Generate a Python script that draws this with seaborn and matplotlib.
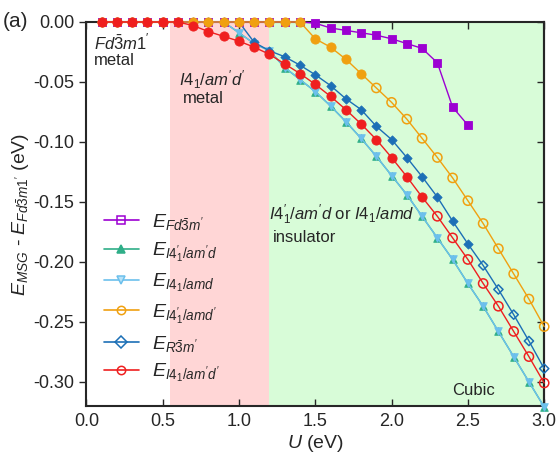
import numpy as np
import pandas as pd
import seaborn as sns
import matplotlib.pyplot as plt
from matplotlib.lines import Line2D

# U values (eV)
u = [0.1, 0.2, 0.3, 0.4, 0.5, 0.6, 0.7, 0.8, 0.9, 1.0,
     1.1, 1.2, 1.3, 1.4, 1.5, 1.6, 1.7, 1.8, 1.9, 2.0,
     2.1, 2.2, 2.3, 2.4, 2.5, 2.6, 2.7, 2.8, 2.9, 3.0]

# energies relative to Fd-3m1' (eV)
e_fd = [0, 0, 0, 0, 0, 0, 0, 0, 0, 0,
        0, 0, 0, 0, -0.001, -0.005, -0.007, -0.009, -0.011, -0.014,
        -0.018, -0.022, -0.034, -0.071, -0.086]
e_i4p_amd = [0, 0, 0, 0, 0, 0, 0, 0, 0, -0.009,
             -0.018, -0.024, -0.038, -0.048, -0.058, -0.070, -0.083, -0.097, -0.112, -0.128,
             -0.144, -0.162, -0.180, -0.198, -0.218, -0.237, -0.258, -0.279, -0.300, -0.321]
e_i4_amd = [0, 0, 0, 0, 0, 0, 0, 0, 0, -0.009,
            -0.018, -0.024, -0.038, -0.048, -0.058, -0.070, -0.083, -0.097, -0.112, -0.128,
            -0.144, -0.162, -0.180, -0.198, -0.218, -0.237, -0.258, -0.279, -0.300, -0.321]
e_i4p_amdp = [0, 0, 0, 0, 0, 0, 0, 0, 0, 0,
              0, 0, 0, 0, -0.014, -0.021, -0.031, -0.043, -0.055, -0.067,
              -0.081, -0.097, -0.113, -0.130, -0.149, -0.168, -0.189, -0.210, -0.231, -0.254]
e_r3m = [0, 0, 0, 0, 0, 0, 0, 0, 0, 0,
         -0.017, -0.024, -0.029, -0.036, -0.044, -0.053, -0.064, -0.073, -0.087, -0.098,
         -0.113, -0.129, -0.146, -0.166, -0.185, -0.203, -0.223, -0.244, -0.266, -0.289]
e_i4_amdpp = [0, 0, 0, 0, 0, 0, -0.003, -0.008, -0.012, -0.016,
              -0.021, -0.027, -0.035, -0.043, -0.052, -0.062, -0.073, -0.085, -0.098, -0.113,
              -0.129, -0.146, -0.162, -0.180, -0.198, -0.218, -0.237, -0.258, -0.279, -0.301]

# last U with a filled marker (open markers after it)
fill_until = {'fd': 3.0, 'i4p_amd': 3.0, 'i4_amd': 3.0, 'i4p_amdp': 1.8, 'r3m': 2.5, 'i4_amdpp': 2.2}

labels = {
    'fd': r"$E_{Fd\bar{3}m'}$",
    'i4p_amd': r"$E_{I4_1'/am'd}$",
    'i4_amd': r"$E_{I4_1/amd}$",
    'i4p_amdp': r"$E_{I4_1'/amd'}$",
    'r3m': r"$E_{R\bar{3}m'}$",
    'i4_amdpp': r"$E_{I4_1/am'd'}$",
}
colors = {'fd': '#9c00d2', 'i4p_amd': '#2fae88', 'i4_amd': '#6cc0ec',
          'i4p_amdp': '#f0a010', 'r3m': '#1c6fb6', 'i4_amdpp': '#ef1f1f'}
markers = {'fd': 's', 'i4p_amd': '^', 'i4_amd': 'v', 'i4p_amdp': 'o', 'r3m': 'D', 'i4_amdpp': 'o'}
sizes = {'fd': 26, 'i4p_amd': 30, 'i4_amd': 30, 'i4p_amdp': 44, 'r3m': 22, 'i4_amdpp': 44}

values = {'fd': e_fd, 'i4p_amd': e_i4p_amd, 'i4_amd': e_i4_amd,
          'i4p_amdp': e_i4p_amdp, 'r3m': e_r3m, 'i4_amdpp': e_i4_amdpp}

sns.set_style('ticks')
plt.rcParams['font.family'] = ['Liberation Sans', 'DejaVu Sans']
plt.rcParams['mathtext.fontset'] = 'custom'
plt.rcParams['mathtext.rm'] = 'Liberation Sans'
plt.rcParams['mathtext.it'] = 'Liberation Sans:italic'
plt.rcParams['mathtext.bf'] = 'Liberation Sans:bold'
plt.rcParams['axes.unicode_minus'] = False

fig = plt.figure(figsize=(5.57, 4.58), dpi=100)
ax = fig.add_axes([0.155, 0.114, 0.822, 0.838])

# phase regions
ax.axvspan(0.545, 1.195, color='#ffd6d6', lw=0, zorder=0)
ax.axvspan(1.195, 3.0, color='#d8fcd8', lw=0, zorder=0)

# drawing order: later series sit on top
draw_order = ['i4p_amd', 'i4_amd', 'r3m', 'fd', 'i4p_amdp', 'i4_amdpp']
for z, key in enumerate(draw_order):
    df = pd.DataFrame({'U': u[:len(values[key])], 'E': values[key]})
    c = colors[key]
    sns.lineplot(data=df, x='U', y='E', color=c, lw=1.0, estimator=None, sort=False,
                 ax=ax, zorder=2 + 2 * z, clip_on=False)
    filled = df[df['U'] <= fill_until[key] + 1e-9]
    hollow = df[df['U'] > fill_until[key] + 1e-9]
    sns.scatterplot(data=filled, x='U', y='E', marker=markers[key], s=sizes[key],
                    color=c, edgecolor=c, linewidth=0.6, ax=ax, zorder=3 + 2 * z, clip_on=False)
    if len(hollow):
        sns.scatterplot(data=hollow, x='U', y='E', marker=markers[key], s=sizes[key],
                        facecolor='none', edgecolor=c, linewidth=1.1, ax=ax, zorder=3 + 2 * z,
                        clip_on=False)

ax.set_xlim(0, 3.0)
ax.set_ylim(-0.32, 0.0)
ax.set_xticks(np.arange(0, 3.01, 0.5))
ax.set_yticks(np.arange(-0.30, 0.001, 0.05))
ax.set_xticklabels(['%.1f' % t for t in np.arange(0, 3.01, 0.5)])
ax.set_yticklabels(['%.2f' % t if abs(t) > 1e-9 else '0.00' for t in np.arange(-0.30, 0.001, 0.05)])
ax.tick_params(axis='x', direction='in', top=True, length=5, width=1, labelsize=13, pad=5)
ax.tick_params(axis='y', direction='out', length=5, width=1, labelsize=13)
right = ax.secondary_yaxis('right')
right.set_yticks(np.arange(-0.30, 0.001, 0.05))
right.tick_params(direction='in', length=5, width=1, labelright=False)
for side in ['left', 'right', 'top', 'bottom']:
    ax.spines[side].set_linewidth(1.5)
right.spines['right'].set_linewidth(1.5)

ax.set_xlabel(r'$U$ (eV)', fontsize=14, labelpad=2)
ax.set_ylabel(r"$E_{MSG}$ - $E_{Fd\bar{3}m1'}$ (eV)", fontsize=14, labelpad=2)

# text annotations
ax.text(0.05, -0.0175, r"$Fd\bar{3}m1'$", fontsize=12, va='center')
ax.text(0.05, -0.0325, 'metal', fontsize=12, va='center')
ax.text(0.61, -0.048, r"$I4_1/am'd'$", fontsize=12, va='center')
ax.text(0.63, -0.064, 'metal', fontsize=12, va='center')
ax.text(1.2, -0.161, r"$I4_1'/am'd$ or $I4_1/amd$", fontsize=12, va='center')
ax.text(1.22, -0.1795, 'insulator', fontsize=12, va='center')
ax.text(2.4, -0.307, 'Cubic', fontsize=12, va='center')
fig.text(0.005, 0.952, '(a)', fontsize=15, va='center')

# legend with open markers
order = ['fd', 'i4p_amd', 'i4_amd', 'i4p_amdp', 'r3m', 'i4_amdpp']
handles = []
for key in order:
    c = colors[key]
    mfc = c if key == 'i4p_amd' else ('#b8e2f8' if key == 'i4_amd' else 'none')
    handles.append(Line2D([], [], color=c, lw=1.2, marker=markers[key], markersize=6,
                          mfc=mfc, mec=c, mew=1.1))
ax.legend(handles, [labels[k] for k in order], loc='upper left', bbox_to_anchor=(0.0, 0.55),
          frameon=False, fontsize=14, handlelength=1.8, labelspacing=0.42, handletextpad=0.7)

fig.savefig('out.png', dpi=100)
